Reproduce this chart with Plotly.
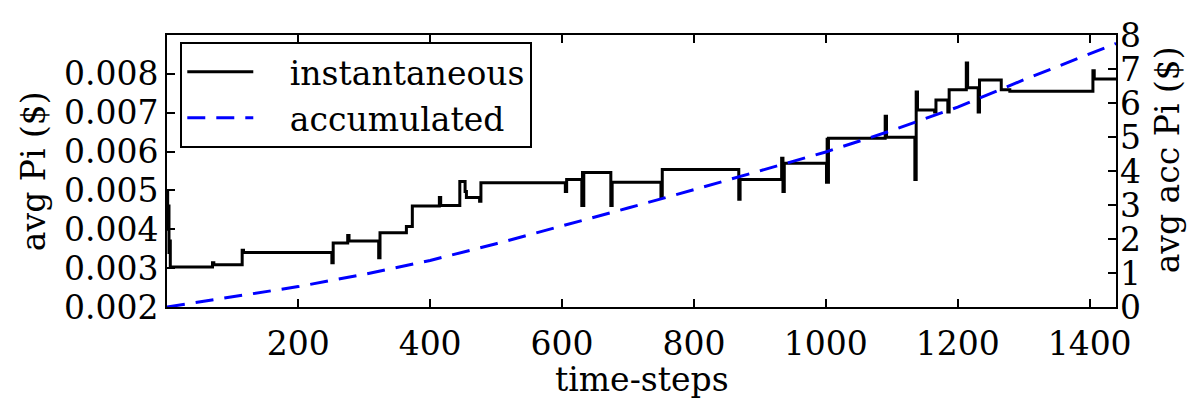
import plotly.graph_objects as go

# instantaneous avg Pi: change points (time-step, value), drawn as steps
inst_t = [1, 2, 3, 4, 5, 6, 70, 72, 115, 117, 251, 253, 275, 277, 322, 324, 364, 373,
          414, 416, 445, 453, 455, 475, 477, 605, 607, 630, 631, 632, 633, 674, 676,
          750, 752, 868, 870, 933, 935, 937, 1001, 1002, 1003, 1004, 1090, 1092,
          1135, 1137, 1139, 1165, 1167, 1185, 1187, 1213, 1215, 1231, 1233, 1266,
          1279, 1405, 1407, 1440]
inst_v = [0.0050, 0.0040, 0.0046, 0.0034, 0.0037, 0.00303, 0.00314, 0.00309, 0.00346, 0.00340,
          0.00314, 0.00365, 0.00384, 0.00370, 0.00327, 0.00391, 0.00407, 0.00460,
          0.00482, 0.00461, 0.00523, 0.00497, 0.00482, 0.00472, 0.00520, 0.00497, 0.00528,
          0.00461, 0.00546, 0.00461, 0.00546, 0.00461, 0.00521,
          0.00482, 0.00554, 0.00477, 0.00528, 0.00583, 0.00497, 0.00570,
          0.00521, 0.00632, 0.00521, 0.00634, 0.00691, 0.00637,
          0.00528, 0.00753, 0.00707, 0.00702, 0.00733, 0.00702, 0.00759, 0.00828, 0.00764,
          0.00702, 0.00784, 0.00759, 0.00755, 0.00808, 0.00787, 0.00787]

# accumulated avg Pi
acc_t = [1, 100, 200, 300, 400, 500, 600, 700, 800, 900, 1000, 1100, 1200, 1300, 1400, 1440]
acc_v = [0, 0.30, 0.60, 0.96, 1.37, 1.86, 2.38, 2.91, 3.45, 4.00, 4.56, 5.19, 5.88, 6.68, 7.44, 7.75]

x_ticks = [200, 400, 600, 800, 1000, 1200, 1400]
y_ticks = [0.002, 0.003, 0.004, 0.005, 0.006, 0.007, 0.008]
y2_ticks = [0, 1, 2, 3, 4, 5, 6, 7, 8]

FONT = "DejaVu Serif"
FS = 33

fig = go.Figure()
fig.add_trace(go.Scatter(x=inst_t, y=inst_v, mode="lines", line_shape="hv",
                         line=dict(color="black", width=3), name="   instantaneous"))
fig.add_trace(go.Scatter(x=acc_t, y=acc_v, mode="lines", yaxis="y2",
                         line=dict(color="#0000ff", width=3, dash="18px,11px"),
                         name="   accumulated"))

title_font = dict(family=FONT, size=FS, color="black")
fig.add_annotation(text="avg Pi ($)", xref="paper", yref="paper", x=-0.141, y=0.5,
                   textangle=-90, showarrow=False, font=title_font,
                   xanchor="center", yanchor="middle")
fig.add_annotation(text="time-steps", xref="paper", yref="paper", x=0.5005, y=-0.268,
                   showarrow=False, font=title_font, xanchor="center", yanchor="middle")
fig.add_annotation(text="avg acc Pi ($)", xref="paper", yref="paper", x=1.054, y=0.54,
                   textangle=-90, showarrow=False, font=title_font,
                   xanchor="center", yanchor="middle")

fig.update_layout(
    width=1192, height=392,
    margin=dict(l=159, r=84, t=27, b=93),
    paper_bgcolor="white", plot_bgcolor="white",
    font=dict(family=FONT, size=FS, color="black"),
    showlegend=True,
    legend=dict(x=0.014, y=0.975, xanchor="left", yanchor="top",
                bordercolor="black", borderwidth=2, bgcolor="white",
                font=dict(family=FONT, size=FS), itemwidth=66,
                tracegroupgap=0),
    xaxis=dict(range=[1, 1440], tickvals=x_ticks, ticks="inside", ticklen=8,
               tickwidth=1.5, tickcolor="black", showline=True, linecolor="black",
               linewidth=2, mirror="ticks", showgrid=False, zeroline=False,
               automargin=False, ticklabelstandoff=6,
               tickfont=dict(family=FONT, size=FS)),
    yaxis=dict(range=[0.002, 0.009], tickvals=y_ticks, tickformat=".3f",
               ticks="inside", ticklen=8, tickwidth=1.5, tickcolor="black",
               showline=True, linecolor="black", linewidth=2, mirror=True,
               showgrid=False, zeroline=False, automargin=False,
               tickfont=dict(family=FONT, size=FS)),
    yaxis2=dict(range=[0, 8], tickvals=y2_ticks, overlaying="y", side="right",
                ticks="inside", ticklen=8, tickwidth=1.5, tickcolor="black",
                showline=False, showgrid=False, zeroline=False, automargin=False,
                ticklabelstandoff=3, tickfont=dict(family=FONT, size=FS)),
)

fig.write_html("out.html")
